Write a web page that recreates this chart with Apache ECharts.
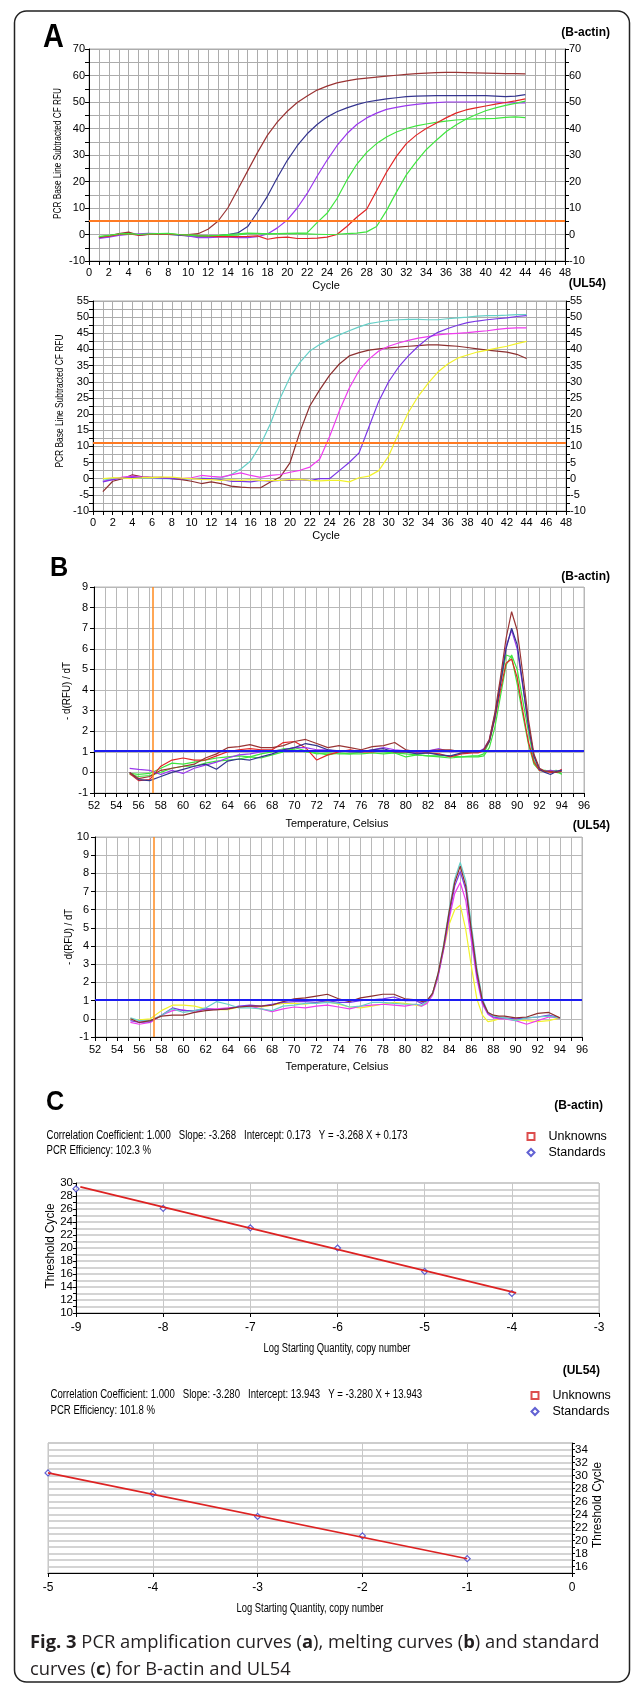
<!DOCTYPE html>
<html>
<head>
<meta charset="utf-8">
<title>Fig. 3 PCR curves</title>
<script src="https://cdn.jsdelivr.net/npm/echarts@6/dist/echarts.min.js"></script>
<style>
  html, body { margin: 0; padding: 0; background: #fff; }
  #chart { width: 633px; height: 1685px; }
</style>
</head>
<body>
<div id="chart"></div>
<script>
// ---- A: amplification curves ----
const cycles = [1,2,3,4,5,6,7,8,9,10,11,12,13,14,15,16,17,18,19,20,21,22,23,24,25,26,27,28,29,30,31,32,33,34,35,36,37,38,39,40,41,42,43,44];

// B-actin
const a1Brown  = [-1.0,-0.5,0.3,0.9,-0.2,0.1,0.2,0.0,0.0,0.0, 0.3,2.0,5.0,10.0,17.0,24.0,31.0,37.5,42.5,46.5, 49.8,52.3,54.5,56.0,57.2,58.0,58.6,59.0,59.4,59.8, 60.1,60.4,60.7,60.9,61.1,61.2,61.2,61.1,61.0,60.9, 60.8,60.7,60.7,60.6];
const a1Navy   = [-1.2,-0.8,0.0,0.3,-0.2,0.0,0.1,0.0,-0.2,-0.5, -0.6,-0.7,-0.5,0.0,0.6,3.0,8.5,14.5,21.5,28.0, 33.5,38.0,41.5,44.3,46.3,47.8,49.0,50.0,50.6,51.2, 51.6,52.0,52.2,52.3,52.4,52.4,52.4,52.4,52.4,52.4, 52.2,52.0,52.2,52.8];
const a1Purple = [-1.5,-1.0,-0.3,0.0,0.2,0.4,0.3,0.1,0.0,-0.5, -1.2,-1.2,-1.0,-1.0,-1.2,-1.2,-0.8,0.2,2.5,5.5, 10.0,15.5,22.0,28.0,33.5,38.0,41.5,44.0,45.8,47.2, 48.0,48.6,49.1,49.5,49.8,50.0,50.0,50.0,50.0,50.0, 50.0,49.8,49.7,49.7];
const a1Green1 = [-0.8,-0.5,0.0,0.3,0.0,0.0,0.3,0.3,0.0,0.0, -0.3,-0.5,-0.5,-0.3,-0.2,0.3,0.3,0.2,0.3,0.4, 0.5,0.6,4.5,8.0,13.5,20.5,26.5,31.0,34.3,36.8, 38.7,40.0,41.0,41.7,42.3,42.8,43.2,43.5,43.6,43.7, 43.8,44.2,44.4,44.1];
const a1Red    = [-1.0,-0.6,0.0,0.2,-0.2,0.0,0.2,0.1,0.0,-0.2, -0.4,-0.6,-0.8,-0.8,-0.8,-0.7,-0.5,-1.8,-1.2,-1.0, -1.5,-1.5,-1.4,-1.0,0.0,3.0,6.5,9.5,16.5,23.5, 29.5,34.3,37.5,40.0,42.0,44.0,45.8,47.0,47.8,48.5, 49.2,49.8,50.4,51.2];
const a1Green2 = [-0.8,-0.3,0.2,0.3,0.0,0.2,0.3,0.4,0.0,-0.2, -0.5,-0.5,-0.3,0.0,0.2,0.5,0.4,0.2,0.3,0.3, 0.3,0.2,0.1,0.0,0.1,0.3,0.5,1.0,3.0,9.0, 16.0,22.5,27.5,32.0,35.5,38.8,41.3,43.5,45.2,46.7, 47.8,48.7,49.5,50.3];
const a1Threshold = 5.3;

// UL54
const a2Cyan    = [-0.5,0.0,0.3,0.2,0.2,0.1,0.0,0.0,-0.2,0.0, 0.2,0.0,0.3,1.2,3.0,5.5,10.5,17.0,25.0,31.5, 36.0,39.5,41.5,43.2,44.5,45.8,47.0,48.0,48.5,49.0, 49.2,49.3,49.3,49.2,49.2,49.5,49.8,50.0,50.3,50.5, 50.5,50.6,50.8,50.8];
const a2Brown   = [-4.0,-0.8,0.0,1.2,0.6,0.4,0.4,0.0,-0.3,-0.8, -1.5,-1.0,-1.5,-2.3,-2.6,-2.8,-2.8,-1.0,0.5,5.0, 14.5,22.5,27.5,32.0,35.5,38.0,39.0,39.8,40.2,40.5, 40.7,41.0,41.2,41.4,41.4,41.2,41.0,40.6,40.2,39.8, 39.5,39.2,38.5,37.2];
const a2Magenta = [-0.8,-0.3,0.5,0.8,0.5,0.3,0.3,0.2,0.0,0.3, 1.0,0.7,0.5,1.2,1.8,1.0,0.4,1.0,1.3,2.0, 2.6,3.6,6.0,13.0,21.0,28.0,33.5,37.0,39.5,41.0, 42.0,42.8,43.5,44.0,44.5,44.8,45.0,45.2,45.5,45.8, 46.2,46.5,46.7,46.7];
const a2Purple  = [-1.0,-0.3,0.2,0.5,0.3,0.3,0.2,0.0,0.0,0.0, 0.0,0.0,-0.3,-0.8,-0.8,-1.0,-0.5,-0.8,-0.5,-0.5, -0.3,-0.6,0.0,0.0,2.5,5.0,8.0,16.0,24.0,30.0, 34.5,38.0,41.0,43.5,45.3,46.5,47.5,48.3,48.8,49.2, 49.5,49.8,50.2,50.5];
const a2Yellow  = [0.0,0.3,0.2,0.0,0.3,0.3,0.5,0.5,0.2,0.0, -0.2,-0.3,-0.5,-0.3,-0.5,-0.3,-0.5,-0.6,-0.5,-0.3, -0.2,-0.5,-0.7,-0.5,-0.5,-1.0,0.3,0.8,2.5,7.0, 14.0,20.5,25.5,29.5,33.0,35.5,37.3,38.3,39.2,39.8, 40.4,41.0,41.8,42.5];
const a2Threshold = 11;

// ---- B: melting curves ----
const b1Temps = [55.2,56,57,58,59,60,61,62,63,64,65,66,67,68,69,70,71,72,73,74,75,76,77,78,79,80,81,82,83,84,85,86, 86.5,87,87.5,88,88.5,89,89.5,90,90.5,91,91.5,92,92.5,93,93.5,94];
const b1Brown  = [0.0,-0.3,-0.2,0.1,0.2,0.3,0.4,0.7,0.9,1.2,1.25,1.35,1.2,1.2,1.3,1.5,1.6,1.4,1.2,1.3,1.2,1.1,1.25,1.3,1.45,1.1,1.0,1.05,1.1,1.1,1.0,1.0, 1.0,1.1,1.6,2.9,4.6,6.5,7.8,6.9,4.8,2.6,0.9,0.2,0.05,0.05,0.0,0.05];
const b1Navy   = [0.0,-0.35,-0.4,-0.2,0.0,0.15,0.3,0.4,0.15,0.55,0.65,0.6,0.75,0.9,1.1,1.2,1.4,1.3,1.1,1.05,1.0,1.0,1.1,1.15,1.0,1.0,0.9,0.95,0.85,0.8,0.95,1.0, 1.0,1.1,1.5,2.7,4.3,6.0,7.0,6.2,4.3,2.3,0.8,0.15,0.0,-0.1,0.05,0.1];
const b1Purple = [0.2,0.15,0.1,-0.1,0.1,-0.05,0.2,0.35,0.5,0.7,0.85,0.9,1.0,1.05,1.1,1.2,1.2,1.1,1.1,1.0,1.05,1.0,1.1,1.2,1.1,1.05,0.95,1.05,1.15,1.0,1.05,1.0, 1.0,1.15,1.6,2.8,4.4,6.1,6.9,6.0,4.2,2.3,0.8,0.15,0.05,0.1,0.05,0.1];
const b1Red    = [-0.05,-0.4,-0.35,0.3,0.6,0.7,0.6,0.6,0.8,1.0,1.1,1.15,1.1,1.1,1.45,1.5,1.2,0.6,0.85,1.0,1.1,1.0,1.0,1.05,1.0,1.0,0.95,0.95,0.9,0.75,0.9,0.95, 0.95,1.05,1.5,2.6,4.0,5.3,5.5,4.6,3.0,1.5,0.5,0.1,0.05,0.0,0.0,0.15];
const b1Green1 = [-0.05,-0.1,-0.05,0.2,0.45,0.4,0.5,0.6,0.7,0.75,0.8,0.75,0.9,1.0,1.15,1.1,1.0,0.95,0.85,0.95,0.9,1.0,1.05,1.0,0.95,0.9,0.85,0.8,0.8,0.8,0.75,0.8, 0.8,0.9,1.5,2.8,4.3,5.7,5.6,4.3,2.8,1.4,0.4,0.1,0.05,0.1,0.0,-0.05];
const b1Green2 = [-0.1,-0.2,-0.15,0.0,0.2,0.3,0.3,0.45,0.55,0.6,0.65,0.75,0.7,0.85,1.0,1.2,1.05,0.9,0.95,0.9,0.9,0.9,0.95,0.9,0.95,0.75,0.85,0.8,0.75,0.7,0.75,0.75, 0.75,0.8,1.2,2.2,3.7,5.2,5.7,5.0,3.5,2.0,0.6,0.1,0.1,0.05,0.1,-0.1];

const b2Temps = [55.2,56,57,58,59,60,61,62,63,64,65,66,67,68,69,70,71,72,73,74,75,76,77,78,79,80,81,81.5,82, 82.5,83,83.5,84,84.5,85,85.5,86,86.5,87,87.5,88,88.5,89,90,91,92,93,94];
const b2Brown   = [0,-0.2,-0.1,0.15,0.2,0.2,0.35,0.45,0.5,0.55, 0.65,0.7,0.7,0.75,0.95,1.1,1.15,1.25,1.35,1.1, 0.95,1.15,1.25,1.35,1.35,1.1,1.05,0.95,1.0, 1.4,2.5,4.0,5.9,7.5,8.4,7.3,4.9,2.6,1.0,0.35,0.2,0.15,0.15,0.05,0.1,0.3,0.35,0.05];
const b2Cyan    = [0.05,-0.1,-0.1,0.2,0.55,0.35,0.45,0.6,0.95,0.8, 0.6,0.6,0.55,0.45,0.7,0.75,0.85,0.85,0.9,0.85, 0.65,0.7,0.9,0.9,0.85,0.8,0.8,0.75,0.95, 1.4,2.5,4.1,6.0,7.7,8.6,7.6,5.2,2.8,1.1,0.35,0.15,0.1,0.05,-0.1,0.05,0.1,0.15,0.05];
const b2Purple  = [-0.1,-0.2,-0.15,0.2,0.6,0.45,0.45,0.55,0.5,0.55, 0.7,0.75,0.7,0.8,0.9,0.95,0.95,0.9,1.0,0.9, 0.9,1.0,1.05,1.1,1.2,1.0,1.0,0.85,1.0, 1.4,2.4,3.9,5.7,7.3,8.1,7.1,4.7,2.4,0.9,0.3,0.1,0.05,0.05,0.0,0.05,0.1,0.2,0.05];
const b2Magenta = [-0.2,-0.3,-0.2,0.2,0.45,0.5,0.35,0.55,0.55,0.6, 0.65,0.7,0.55,0.4,0.55,0.65,0.6,0.7,0.75,0.65, 0.55,0.7,0.75,0.8,0.75,0.7,0.8,0.7,0.85, 1.3,2.3,3.8,5.5,6.9,7.5,6.5,4.3,2.2,0.8,0.25,0.05,0.0,0.0,-0.1,-0.3,-0.1,0.1,0.05];
const b2Yellow  = [-0.05,-0.05,0.0,0.45,0.75,0.75,0.7,0.55,0.5,0.5, 0.65,0.7,0.65,0.75,0.85,0.85,0.8,0.9,0.95,0.8, 0.65,0.6,0.7,0.8,0.9,0.85,0.75,0.7,0.9, 1.4,2.4,3.8,5.2,6.0,6.25,4.9,2.9,1.1,0.2,-0.15,-0.1,0.0,0.05,-0.05,-0.1,-0.15,-0.1,0.05];
const meltStart = 57.3;   // orange begin line
const meltLevel = 1.05;   // blue threshold

// ---- C: standard curves ----
const c1LogQty = [-9, -8, -7, -6, -5, -4];
const c1Ct     = [29.1, 26.1, 23.1, 20.0, 16.4, 13.0];
const c1FitX   = [-8.95, -3.95];
const c1FitY   = [29.4, 13.1];
const c2LogQty = [-5, -4, -3, -2, -1];
const c2Ct     = [30.4, 27.2, 23.7, 20.7, 17.2];
const c2FitX   = [-5, -1];
const c2FitY   = [30.4, 17.2];

const c1Head = 'Correlation Coefficient: 1.000   Slope: -3.268   Intercept: 0.173   Y = -3.268 X + 0.173';
const c1Eff  = 'PCR Efficiency: 102.3 %';
const c2Head = 'Correlation Coefficient: 1.000   Slope: -3.280   Intercept: 13.943   Y = -3.280 X + 13.943';
const c2Eff  = 'PCR Efficiency: 101.8 %';

// colours
const BROWN = '#9a3434', NAVY = '#34348f', PURPLE = '#9a38ee', GREEN = '#3fe63f', RED = '#e22626';
const CYAN = '#66cfc7', BROWN2 = '#8c2f2f', MAGENTA = '#ef3cef', VIOLET = '#7a36e6', YELLOW = '#f2f22a';
const GRIDA = '#acacac', GRIDB = '#b8b8b8';

const measure = document.createElement('canvas').getContext('2d');
function fit(str, font, width) {
  measure.font = font;
  return width / measure.measureText(str).width;
}

function every(step) {
  return function (v) {
    return Math.abs(Math.round(v / step) * step - v) < 1e-6 ? String(v) : '';
  };
}

function axis(gi, min, max, interval, labelStep, more) {
  more = more || {};
  return {
    type: 'value', gridIndex: gi, min: min, max: max, interval: interval,
    position: more.position,
    axisLine: { show: true, onZero: false, lineStyle: { color: '#000', width: 1 } },
    axisTick: { show: true, length: more.tick || 4, lineStyle: { color: '#000' } },
    axisLabel: {
      color: '#000', fontSize: more.fontSize || 11, fontFamily: 'Liberation Sans, Arial, sans-serif',
      margin: more.margin || 5, formatter: every(labelStep)
    },
    splitLine: { show: more.split !== false, lineStyle: { color: more.splitColor || GRIDA, width: more.splitWidth || 1 } }
  };
}

function curve(xi, yi, xs, ys, color) {
  return {
    type: 'line', xAxisIndex: xi, yAxisIndex: yi,
    data: xs.map((x, i) => [x, ys[i]]),
    symbol: 'none', showSymbol: false, silent: true,
    lineStyle: { color: color, width: 1.2 }, itemStyle: { color: color }
  };
}

function mark(series, list) {
  series.markLine = {
    silent: true, symbol: ['none', 'none'], label: { show: false }, animation: false,
    data: list
  };
  return series;
}

function text(str, x, y, o) {
  o = o || {};
  const font = o.font || '11px "Liberation Sans", Arial, sans-serif';
  const sx = o.width ? fit(str.replace(/\{\w+\|([^}]*)\}/g, '$1'), font, o.width) : (o.sx || 1);
  return {
    type: 'text', x: x, y: y, rotation: o.rot || 0, scaleX: sx, z: 10,
    style: {
      text: str, font: font, fill: o.fill || '#000',
      textAlign: o.align || 'left', textVerticalAlign: 'middle',
      align: o.align || 'left', verticalAlign: 'middle',
      rich: o.rich
    }
  };
}

const chart = echarts.init(document.getElementById('chart'), null, { renderer: 'canvas' });

const series = [
  curve(0, 0, cycles, a1Brown, BROWN),
  curve(0, 0, cycles, a1Navy, NAVY),
  curve(0, 0, cycles, a1Purple, PURPLE),
  curve(0, 0, cycles, a1Green1, GREEN),
  curve(0, 0, cycles, a1Red, RED),
  mark(curve(0, 0, cycles, a1Green2, GREEN), [{ yAxis: a1Threshold, lineStyle: { color: '#ff7a22', width: 2, type: 'solid' } }]),

  curve(1, 2, cycles, a2Cyan, CYAN),
  curve(1, 2, cycles, a2Brown, BROWN2),
  curve(1, 2, cycles, a2Magenta, MAGENTA),
  curve(1, 2, cycles, a2Purple, VIOLET),
  mark(curve(1, 2, cycles, a2Yellow, YELLOW), [{ yAxis: a2Threshold, lineStyle: { color: '#ff7a22', width: 2, type: 'solid' } }]),

  curve(2, 4, b1Temps, b1Green2, GREEN),
  curve(2, 4, b1Temps, b1Green1, GREEN),
  curve(2, 4, b1Temps, b1Red, RED),
  curve(2, 4, b1Temps, b1Purple, PURPLE),
  curve(2, 4, b1Temps, b1Navy, NAVY),
  mark(curve(2, 4, b1Temps, b1Brown, BROWN), [
    { xAxis: meltStart, lineStyle: { color: '#ff8a1e', width: 1.5, type: 'solid' } },
    { yAxis: meltLevel, lineStyle: { color: '#1c1cf2', width: 2, type: 'solid' } }
  ]),

  curve(3, 5, b2Temps, b2Yellow, YELLOW),
  curve(3, 5, b2Temps, b2Magenta, MAGENTA),
  curve(3, 5, b2Temps, b2Purple, VIOLET),
  curve(3, 5, b2Temps, b2Cyan, CYAN),
  mark(curve(3, 5, b2Temps, b2Brown, BROWN2), [
    { xAxis: meltStart, lineStyle: { color: '#ff8a1e', width: 1.5, type: 'solid' } },
    { yAxis: meltLevel, lineStyle: { color: '#1c1cf2', width: 2, type: 'solid' } }
  ]),

  Object.assign(curve(4, 6, c1FitX, c1FitY, '#dd2222'), { lineStyle: { color: '#dd2222', width: 1.6 } }),
  Object.assign(curve(5, 7, c2FitX, c2FitY, '#dd2222'), { lineStyle: { color: '#dd2222', width: 1.6 } }),
  {
    name: 'Unknowns', type: 'scatter', xAxisIndex: 4, yAxisIndex: 6, data: [],
    symbol: 'rect', symbolSize: 6, itemStyle: { color: '#fff', borderColor: '#d42020', borderWidth: 1.3 }
  },
  {
    name: 'Standards', type: 'scatter', xAxisIndex: 4, yAxisIndex: 6,
    data: c1LogQty.map((x, i) => [x, c1Ct[i]]), silent: true,
    symbol: 'diamond', symbolSize: 6, itemStyle: { color: '#fff', borderColor: '#3a3ac8', borderWidth: 1.2 }
  },
  {
    name: 'Standards', type: 'scatter', xAxisIndex: 5, yAxisIndex: 7,
    data: c2LogQty.map((x, i) => [x, c2Ct[i]]), silent: true,
    symbol: 'diamond', symbolSize: 6, itemStyle: { color: '#fff', borderColor: '#3a3ac8', borderWidth: 1.2 }
  }
];

const headFont = '12.5px "Liberation Sans", Arial, sans-serif';
const headScale = fit(c1Head, headFont, 361);
const capFont = '18px "Open Sans", "Noto Sans", sans-serif';
measure.font = 'bold ' + capFont;
const capBold = measure.measureText('Fig. 3').width + 3 * measure.measureText('a').width;
measure.font = capFont;
const capPlain = measure.measureText(' PCR amplification curves (), melting curves () and standard').width;
const capScale = 580 / (capBold + capPlain);
const capRich = { b: { fontWeight: 'bold', fontSize: 18, fontFamily: '"Open Sans", "Noto Sans", sans-serif', fill: '#231f20' } };

const graphic = [
  { type: 'rect', z: 0, shape: { x: 14.5, y: 11, width: 615, height: 1671, r: 12 },
    style: { fill: 'none', stroke: '#222', lineWidth: 1.5 } },
  text('A', 43, 38, { font: 'bold 34px "Liberation Sans", Arial, sans-serif', sx: 0.85 }),
  text('B', 50, 568, { font: 'bold 28px "Liberation Sans", Arial, sans-serif', sx: 0.9 }),
  text('C', 46, 1102, { font: 'bold 28px "Liberation Sans", Arial, sans-serif', sx: 0.9 }),
  text('(B-actin)', 610, 33, { font: 'bold 12px "Liberation Sans", Arial, sans-serif', align: 'right' }),
  text('(UL54)', 606, 284, { font: 'bold 12px "Liberation Sans", Arial, sans-serif', align: 'right' }),
  text('(B-actin)', 610, 577, { font: 'bold 12px "Liberation Sans", Arial, sans-serif', align: 'right' }),
  text('(UL54)', 610, 826, { font: 'bold 12px "Liberation Sans", Arial, sans-serif', align: 'right' }),
  text('(B-actin)', 603, 1106, { font: 'bold 12px "Liberation Sans", Arial, sans-serif', align: 'right' }),
  text('(UL54)', 600, 1371, { font: 'bold 12px "Liberation Sans", Arial, sans-serif', align: 'right' }),

  text('PCR Base Line Subtracted CF RFU', 58.5, 153.5, { font: '10px "Liberation Sans", Arial, sans-serif', align: 'center', rot: Math.PI / 2, width: 131 }),
  text('PCR Base Line Subtracted CF RFU', 60.5, 401, { font: '10px "Liberation Sans", Arial, sans-serif', align: 'center', rot: Math.PI / 2, width: 133 }),
  text('Cycle', 326, 286, { align: 'center' }),
  text('Cycle', 326, 536, { align: 'center' }),
  text('- d(RFU) / dT', 66.5, 691, { align: 'center', rot: Math.PI / 2, width: 58 }),
  text('- d(RFU) / dT', 68.5, 937, { align: 'center', rot: Math.PI / 2, width: 56 }),
  text('Temperature, Celsius', 337, 824, { align: 'center', width: 103 }),
  text('Temperature, Celsius', 337, 1067, { align: 'center', width: 103 }),

  text(c1Head, 46.5, 1136, { font: headFont, sx: headScale }),
  text(c1Eff, 46.5, 1151, { font: headFont, sx: headScale }),
  text(c2Head, 50.5, 1395, { font: headFont, sx: headScale }),
  text(c2Eff, 50.5, 1411, { font: headFont, sx: headScale }),
  text('Threshold Cycle', 50.5, 1246, { font: '12.5px "Liberation Sans", Arial, sans-serif', align: 'center', rot: Math.PI / 2, width: 85 }),
  text('Threshold Cycle', 598, 1505, { font: '12.5px "Liberation Sans", Arial, sans-serif', align: 'center', rot: Math.PI / 2, width: 86 }),
  text('Log Starting Quantity, copy number', 337, 1349, { font: '12.5px "Liberation Sans", Arial, sans-serif', align: 'center', width: 147 }),
  text('Log Starting Quantity, copy number', 310, 1609, { font: '12.5px "Liberation Sans", Arial, sans-serif', align: 'center', width: 147 }),

  text('{b|Fig. 3} PCR amplification curves ({b|a}), melting curves ({b|b}) and standard', 30, 1643,
    { font: capFont, sx: capScale, fill: '#231f20', rich: capRich }),
  text('curves ({b|c}) for B-actin and UL54', 30, 1670,
    { font: capFont, sx: capScale, fill: '#231f20', rich: capRich })
];

const legendBase = {
  data: ['Unknowns', 'Standards'], orient: 'vertical', padding: 0, itemGap: 3,
  itemWidth: 7, itemHeight: 7, selectedMode: false,
  textStyle: { fontSize: 12.5, fontFamily: 'Liberation Sans, Arial, sans-serif', color: '#000', lineHeight: 12, padding: [0, 0, 0, 9] }
};

chart.setOption({
  animation: false,
  backgroundColor: '#fff',
  grid: [
    { left: 89, top: 49, width: 476, height: 212, show: true, borderColor: GRIDA, borderWidth: 1 },
    { left: 93, top: 301, width: 473, height: 210, show: true, borderColor: GRIDA, borderWidth: 1 },
    { left: 94, top: 587, width: 490, height: 206, show: true, borderColor: GRIDB, borderWidth: 1 },
    { left: 95, top: 837, width: 487, height: 200, show: true, borderColor: GRIDB, borderWidth: 1 },
    { left: 76, top: 1183, width: 523, height: 130, show: true, borderColor: '#c4c4c4', borderWidth: 1 },
    { left: 48, top: 1443, width: 524, height: 130, show: true, borderColor: '#c4c4c4', borderWidth: 1 }
  ],
  xAxis: [
    axis(0, 0, 48, 1, 2, { margin: 6 }),
    axis(1, 0, 48, 1, 2, { margin: 6 }),
    axis(2, 52, 96, 1, 2, { margin: 7, splitColor: GRIDB }),
    axis(3, 52, 96, 1, 2, { margin: 7, splitColor: GRIDB }),
    axis(4, -9, -3, 1, 1, { fontSize: 12, margin: 9, splitColor: '#c8c8c8' }),
    axis(5, -5, 0, 1, 1, { fontSize: 12, margin: 9, splitColor: '#c8c8c8' })
  ],
  yAxis: [
    axis(0, -10, 70, 5, 10, { margin: 4 }),
    axis(0, -10, 70, 5, 10, { margin: 4, position: 'right', split: false }),
    axis(1, -10, 55, 2.5, 5, { margin: 4 }),
    axis(1, -10, 55, 2.5, 5, { margin: 4, position: 'right', split: false }),
    axis(2, -1, 9, 1, 1, { margin: 6, splitColor: GRIDB }),
    axis(3, -1, 10, 1, 1, { margin: 6, splitColor: GRIDB }),
    axis(4, 10, 30, 1, 2, { fontSize: 11.5, margin: 3, tick: 3, splitColor: '#c6c6c6', splitWidth: 1.6 }),
    axis(5, 15, 35, 1, 2, { fontSize: 11.5, margin: 3, tick: 3, position: 'right', splitColor: '#c6c6c6', splitWidth: 1.6 })
  ],
  legend: [
    Object.assign({ left: 526.5, top: 1130 }, legendBase),
    Object.assign({ left: 530.5, top: 1389 }, legendBase)
  ],
  graphic: graphic,
  series: series
});
</script>
</body>
</html>
